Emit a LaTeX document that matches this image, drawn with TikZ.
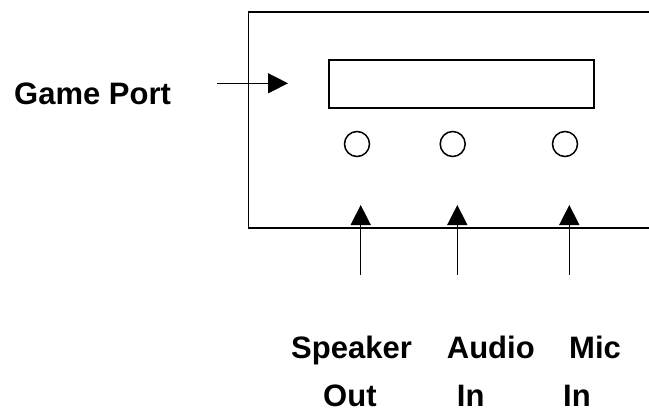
\documentclass[tikz,border=0pt]{standalone}
\usepackage{fontspec}
\setmainfont{Liberation Sans}
\usetikzlibrary{arrows.meta}
\begin{document}
\begin{tikzpicture}[x=1pt,y=-1pt,
  line/.style={line width=1.5pt,draw=black},
  arr/.style={line,-{Triangle[length=20pt,width=20pt]}},
  lbl/.style={anchor=base west,inner sep=0pt,font=\fontsize{31}{37}\selectfont\bfseries}]
\useasboundingbox (0,0) rectangle (649,412);
\clip (0,0) rectangle (649,412);
% panel
\draw[line] (670,12) -- (248.7,12) -- (248.7,228) -- (670,228);
\node[line,draw,rectangle,minimum width=265pt,minimum height=48pt,inner sep=0pt] (port) at (461.5,84) {};
\node[line,draw,circle,minimum size=25pt,inner sep=0pt] (j1) at (357,144) {};
\node[line,draw,circle,minimum size=25pt,inner sep=0pt] (j2) at (452.7,144) {};
\node[line,draw,circle,minimum size=25pt,inner sep=0pt] (j3) at (565,144) {};
% labels
\node[lbl] (game) at (14,105) {Game Port};
\node[lbl] (spk) at (291,358) {Speaker};
\node[lbl] (out) at (323,406) {Out};
\node[lbl] (aud) at (446.7,358) {Audio};
\node[lbl] (in1) at (456.7,406) {In};
\node[lbl] (mic) at (569,358) {Mic};
\node[lbl] (in2) at (563,406) {In};
% arrow endpoints
\coordinate (gs) at (217,83.3);
\coordinate (ge) at (288,83.3);
\coordinate (a1s) at (360.7,275);
\coordinate (a1e) at (360.7,205);
\coordinate (a2s) at (457.3,275);
\coordinate (a2e) at (457.3,205);
\coordinate (a3s) at (569.3,275);
\coordinate (a3e) at (569.3,205);
\draw[arr] (gs) -- (ge);
\draw[arr] (a1s) -- (a1e);
\draw[arr] (a2s) -- (a2e);
\draw[arr] (a3s) -- (a3e);
\end{tikzpicture}
\end{document}
